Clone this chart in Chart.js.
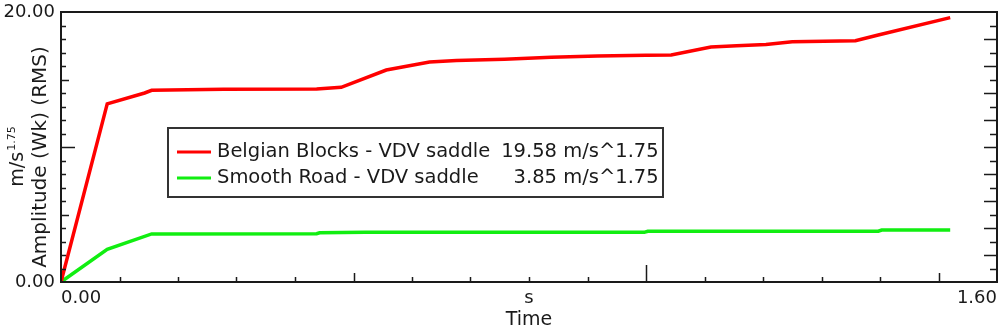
<!DOCTYPE html>
<html>
<head>
<meta charset="utf-8">
<script src="https://cdn.jsdelivr.net/npm/chart.js@4.4.1/dist/chart.umd.min.js"></script>
<style>
  html, body { margin: 0; padding: 0; background: #fff; }
  #wrap { width: 1000px; height: 331px; }
</style>
</head>
<body>
<div id="wrap"><canvas id="myChart" width="1000" height="331"></canvas></div>
<script>
// data
const belgianTime = [0, 0.079, 0.143, 0.155, 0.278, 0.437, 0.479, 0.556, 0.630, 0.676, 0.758, 0.838, 0.917, 1.0, 1.043, 1.111, 1.155, 1.205, 1.25, 1.358, 1.397, 1.52];
const belgianAmp = [0, 13.2, 14.0, 14.2, 14.27, 14.3, 14.42, 15.7, 16.3, 16.4, 16.5, 16.64, 16.74, 16.8, 16.82, 17.4, 17.5, 17.6, 17.8, 17.87, 18.3, 19.58];
const smoothTime = [0, 0.079, 0.155, 0.437, 0.442, 0.52, 0.997, 1.003, 1.397, 1.403, 1.52];
const smoothAmp = [0, 2.42, 3.56, 3.58, 3.65, 3.68, 3.68, 3.76, 3.76, 3.85, 3.85];

const seriesNames = ["Belgian Blocks - VDV saddle", "Smooth Road - VDV saddle"];
const seriesRms = ["19.58", "3.85"];
const rmsUnit = "m/s^1.75";
const xTickLabels = ["0.00", "s", "1.60"];
const yTickLabels = ["0.00", "20.00"];

const FONT = "'DejaVu Sans', sans-serif";
const INK = "#1a1a1a";

const toPoints = (xs, ys) => xs.map((x, i) => ({ x: x, y: ys[i] }));

// frame, inward tick marks, y title and the boxed legend
const decorations = {
  id: "decorations",
  afterDraw(chart) {
    const { ctx, chartArea: a, scales } = chart;
    const xs = scales.x, ys = scales.y;
    ctx.save();
    ctx.strokeStyle = INK;
    ctx.lineWidth = 1.5;

    // x ticks every 0.1
    ctx.beginPath();
    for (let i = 1; i < 16; i++) {
      const px = Math.round(xs.getPixelForValue(i / 10)) + 0.5;
      let len = 5;
      if (i === 10) len = 17;
      else if (i === 5 || i === 15) len = 9;
      ctx.moveTo(px, a.bottom);
      ctx.lineTo(px, a.bottom - len);
    }
    // y ticks every 1, left and right
    for (let v = 1; v < 20; v++) {
      const py = Math.round(ys.getPixelForValue(v)) + 0.5;
      let lenL = 5;
      if (v === 10) lenL = 14;
      else if (v === 5 || v === 15) lenL = 8;
      ctx.moveTo(a.left, py);
      ctx.lineTo(a.left + lenL, py);
      const lenR = v % 2 === 0 ? 13 : 7;
      ctx.moveTo(a.right, py);
      ctx.lineTo(a.right - lenR, py);
    }
    ctx.stroke();

    // frame
    ctx.lineWidth = 2;
    ctx.strokeRect(a.left, a.top, a.right - a.left, a.bottom - a.top);

    // y axis title
    const cy = 157;
    ctx.fillStyle = INK;
    ctx.save();
    ctx.translate(41, cy);
    ctx.rotate(-Math.PI / 2);
    ctx.textAlign = "center";
    ctx.textBaseline = "middle";
    ctx.font = "20px " + FONT;
    ctx.fillText("Amplitude (Wk) (RMS)", 0, 0);
    ctx.restore();

    ctx.save();
    ctx.translate(18, cy);
    ctx.rotate(-Math.PI / 2);
    ctx.textBaseline = "middle";
    const base = "m/s";
    ctx.font = "19px " + FONT;
    const wBase = ctx.measureText(base).width;
    ctx.font = "11px " + FONT;
    const wSup = ctx.measureText("1.75").width;
    const start = -(wBase + wSup) / 2;
    ctx.font = "19px " + FONT;
    ctx.textAlign = "left";
    ctx.fillText(base, start, 0);
    ctx.font = "11px " + FONT;
    ctx.fillText("1.75", start + wBase + 1, -6);
    ctx.restore();

    // legend box
    const bx = a.left + 107, by = a.top + 116, bw = 495, bh = 69;
    ctx.fillStyle = "#fff";
    ctx.fillRect(bx, by, bw, bh);
    ctx.strokeStyle = "#333";
    ctx.lineWidth = 2;
    ctx.strokeRect(bx, by, bw, bh);
    ctx.font = "19.5px " + FONT;
    ctx.textBaseline = "middle";
    chart.data.datasets.forEach((ds, i) => {
      const ly = by + 24 + i * 26;
      ctx.strokeStyle = ds.borderColor;
      ctx.lineWidth = 3;
      ctx.beginPath();
      ctx.moveTo(bx + 9, ly);
      ctx.lineTo(bx + 43, ly);
      ctx.stroke();
      ctx.fillStyle = INK;
      ctx.textAlign = "left";
      ctx.fillText(seriesNames[i], bx + 49, ly);
      ctx.textAlign = "right";
      ctx.fillText(seriesRms[i], bx + 389, ly);
      ctx.textAlign = "left";
      ctx.fillText(" " + rmsUnit, bx + 389, ly);
    });
    ctx.restore();
  }
};

const ctx = document.getElementById("myChart").getContext("2d");

new Chart(ctx, {
  type: "line",
  data: {
    datasets: [
      {
        label: seriesNames[0],
        data: toPoints(belgianTime, belgianAmp),
        borderColor: "#ff0000",
        borderWidth: 3.5,
        tension: 0,
        pointRadius: 0,
      },
      {
        label: seriesNames[1],
        data: toPoints(smoothTime, smoothAmp),
        borderColor: "#11ee11",
        borderWidth: 3.5,
        tension: 0,
        pointRadius: 0,
      },
    ],
  },
  options: {
    responsive: false,
    animation: false,
    events: [],
    layout: { padding: { top: 12, right: 3, left: 0, bottom: 0 } },
    plugins: {
      legend: { display: false },
      tooltip: { enabled: false },
    },
    scales: {
      x: {
        type: "linear",
        min: 0,
        max: 1.6,
        afterBuildTicks: (s) => {
          s.ticks = [{ value: 0 }, { value: 0.8 }, { value: 1.6 }];
        },
        afterFit: (s) => {
          s.height = 49;
          s.paddingLeft = 0;
          s.paddingRight = 0;
        },
        grid: { display: false, drawTicks: false },
        border: { display: false },
        ticks: {
          align: "inner",
          padding: 6,
          maxRotation: 0,
          autoSkip: false,
          color: INK,
          font: { family: FONT, size: 18 },
          callback: (v, i) => xTickLabels[i],
        },
        title: {
          display: true,
          text: "Time",
          color: INK,
          font: { family: FONT, size: 19 },
          padding: { top: 0, bottom: 0 },
        },
      },
      y: {
        min: 0,
        max: 20,
        afterBuildTicks: (s) => {
          s.ticks = [{ value: 0 }, { value: 20 }];
        },
        afterFit: (s) => {
          s.width = 61;
          s.paddingTop = 0;
          s.paddingBottom = 0;
        },
        grid: { display: false, drawTicks: false },
        border: { display: false },
        ticks: {
          padding: 6,
          color: INK,
          font: { family: FONT, size: 18 },
          callback: (v, i) => yTickLabels[i],
        },
      },
    },
  },
  plugins: [decorations],
});
</script>
</body>
</html>
